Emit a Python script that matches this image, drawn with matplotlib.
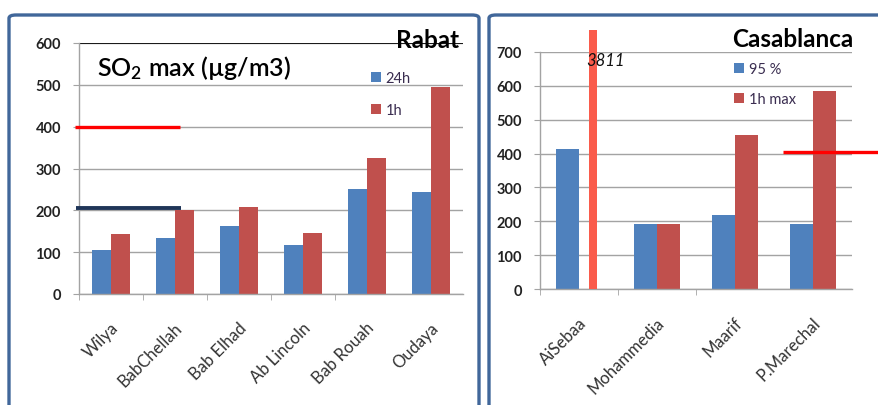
"""
SO2 maxima at the Rabat and Casablanca monitoring stations.
"""
import numpy as np
import matplotlib.pyplot as plt
from matplotlib.patches import FancyBboxPatch
from matplotlib.transforms import Bbox, TransformedBbox, ScaledTranslation

plt.rcParams['font.family'] = ['Lato', 'DejaVu Sans']
plt.rcParams['mathtext.default'] = 'regular'

# Rabat stations
rabat_sites = ['Wilya', 'BabChellah', 'Bab Elhad', 'Ab Lincoln', 'Bab Rouah', 'Oudaya']
rabat_24h = [106, 134, 162, 118, 251, 245]
rabat_1h = [143, 201, 207, 146, 324, 496]
rabat_limit_1h = 400
rabat_limit_24h = 205

# Casablanca stations
casa_sites = ['AiSebaa', 'Mohammedia', 'Maarif', 'P.Marechal']
casa_p95 = [413, 192, 219, 192]
casa_1h = [3811, 192, 455, 584]
casa_limit = 404

BLUE = '#4f81bd'
RED = '#c0504d'
TOMATO = '#fa5b4b'
GRID = '#a3a3a3'
FRAME = '#41679a'

W, H = 879, 406
fig = plt.figure(figsize=(W / 100, H / 100), dpi=100)


def px_axes(x0, x1, ytop, ybot):
    return fig.add_axes([x0 / W, 1 - ybot / H, (x1 - x0) / W, (ybot - ytop) / H])


# rounded panel frames
for x0, x1 in [(9, 479), (489, 960)]:
    fig.patches.append(FancyBboxPatch((x0 / W, -0.2), (x1 - x0) / W, 1.2 - 16 / H,
                                      boxstyle='round,pad=0,rounding_size=0.008',
                                      transform=fig.transFigure, fill=False,
                                      edgecolor=FRAME, linewidth=2.4, zorder=0))


def style_axes(ax, labels, ymax, step):
    n = len(labels)
    ax.set_xlim(-0.5, n - 0.5)
    ax.set_ylim(0, ymax)
    ax.set_yticks(np.arange(0, ymax + 1, step))
    ax.yaxis.grid(True, color=GRID, linewidth=1.0)
    ax.set_axisbelow(True)
    for s in ['top', 'right']:
        ax.spines[s].set_visible(False)
    for s in ['left', 'bottom']:
        ax.spines[s].set_color(GRID)
        ax.spines[s].set_linewidth(1.0)
    ax.tick_params(axis='y', length=4, color=GRID, pad=9, labelsize=10.5,
                   labelcolor='#222222')
    for t in ax.get_yticklabels():
        t.set_fontweight('bold')
    ax.set_xticks(np.arange(n - 1) - 0.5, minor=True)
    ax.tick_params(axis='x', which='minor', length=4, color=GRID, direction='out')
    ax.set_xticks(np.arange(n))
    ax.set_xticklabels(labels, rotation=45, ha='right', va='center',
                       rotation_mode='anchor', fontsize=12, color='#333333')
    ax.tick_params(axis='x', which='major', length=0, pad=22)
    for t in ax.get_xticklabels():
        t.set_transform(t.get_transform() + ScaledTranslation(5 / 100, 0, fig.dpi_scale_trans))


# ---- Rabat ----
ax1 = px_axes(79, 463, 44, 295)
x = np.arange(len(rabat_sites))
w = 0.29
b24 = ax1.bar(x - w / 2, rabat_24h, w, color=BLUE)
b1 = ax1.bar(x + w / 2, rabat_1h, w, color=RED)
style_axes(ax1, rabat_sites, 600, 100)
ax1.axhline(600, color='black', linewidth=1.2, zorder=1)
ax1.plot([-0.56, 1.08], [rabat_limit_1h] * 2, color='#ff0000', linewidth=2.4,
         clip_on=False, solid_capstyle='butt', zorder=3)
ax1.plot([-0.55, 1.09], [rabat_limit_24h] * 2, color='#1f3558', linewidth=2.8,
         clip_on=False, solid_capstyle='butt', zorder=3)
fig.text(459 / W, 1 - 48 / H, 'Rabat', ha='right', va='baseline',
         fontsize=17.5, fontweight='bold', color='black')
fig.text(97 / W, 1 - 76 / H, 'SO$_2$ max (µg/m3)', ha='left', va='baseline',
         fontsize=18, fontweight='semibold', color='black')
fig.legend([b24, b1], ['24h', '1h'], loc='upper left',
           bbox_to_anchor=(371 / W, 1 - 72 / H), frameon=False, fontsize=10.5,
           handlelength=0.7, handleheight=0.7, handletextpad=0.3,
           labelspacing=1.25, borderpad=0, borderaxespad=0, labelcolor='#3a2d50')

# ---- Casablanca ----
ax2 = px_axes(540, 852, 53, 290)
x = np.arange(len(casa_sites))
p95 = ax2.bar(x - w / 2, casa_p95, w, color=BLUE)
h1 = ax2.bar(x[1:] + w / 2, casa_1h[1:], w, color=RED)
# AiSebaa peak is off the scale: thin bar cut just above the axes
peak = ax2.bar(x[0] + 0.18, casa_1h[0], 0.095, color=TOMATO, zorder=3)
peak[0].set_clip_box(TransformedBbox(Bbox([[-0.5, 0], [3.5, 765]]), ax2.transData))
ax2.text(x[0] + 0.09, 676, f'{casa_1h[0]}', ha='left', va='center',
         fontsize=12, fontstyle='italic', color='#111111', zorder=4)
style_axes(ax2, casa_sites, 700, 100)
ax2.plot([2.615, 4.2], [casa_limit] * 2, color='#ff0000', linewidth=2.4,
         clip_on=False, solid_capstyle='butt', zorder=3)
fig.text(853 / W, 1 - 47 / H, 'Casablanca', ha='right', va='baseline',
         fontsize=17.5, fontweight='bold', color='black')
fig.legend([p95, h1], ['95 %', '1h max'], loc='upper left',
           bbox_to_anchor=(734 / W, 1 - 63 / H), frameon=False, fontsize=10.5,
           handlelength=0.7, handleheight=0.7, handletextpad=0.3,
           labelspacing=1.1, borderpad=0, borderaxespad=0, labelcolor='#3a2d50')

fig.savefig('out.png', dpi=100)
